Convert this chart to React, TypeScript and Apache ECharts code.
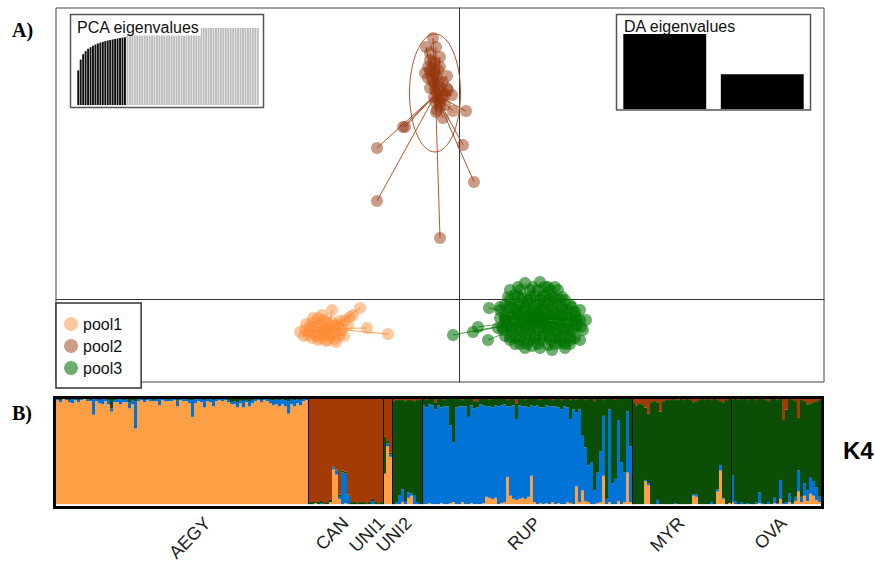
import React, { useEffect, useRef } from 'react';
import * as echarts from 'echarts';

const SANS = '"Liberation Sans", Arial, Helvetica, sans-serif';
const SERIF = '"Liberation Serif", "Times New Roman", serif';

// ---------- Panel A: DAPC scores (LD1, LD2) ----------
const pool1Points: [number, number][] = [
  [-1.54, -0.31], [-1.51, -0.36], [-1.47, -0.39], [-1.41, -0.41], [-1.37, -0.37], [-1.33, -0.42],
  [-1.29, -0.38], [-1.24, -0.40], [-1.19, -0.36], [-1.49, -0.27], [-1.43, -0.29], [-1.39, -0.25],
  [-1.34, -0.30], [-1.29, -0.28], [-1.24, -0.31], [-1.21, -0.26], [-1.17, -0.31], [-1.44, -0.34],
  [-1.37, -0.32], [-1.31, -0.35], [-1.26, -0.35], [-1.53, -0.25], [-1.46, -0.23], [-1.35, -0.21],
  [-1.27, -0.23], [-1.19, -0.22], [-1.41, -0.19], [-1.59, -0.33], [-1.23, -0.43], [-1.15, -0.37],
  [-1.27, -0.11], [-0.99, -0.09], [-1.37, -0.16], [-0.92, -0.29], [-0.71, -0.35], [-1.09, -0.18],
  [-1.06, -0.16], [-1.11, -0.26], [-1.46, -0.19], [-1.14, -0.21],
  [-1.49, -0.33], [-1.39, -0.39], [-1.31, -0.41], [-1.43, -0.37], [-1.55, -0.37], [-1.25, -0.27],
  [-1.32, -0.23],
];
const pool2Points: [number, number][] = [
  [-0.26, 2.61], [-0.33, 2.52], [-0.23, 2.52], [-0.29, 2.46], [-0.19, 2.42], [-0.24, 2.37],
  [-0.31, 2.32], [-0.19, 2.32], [-0.27, 2.27], [-0.34, 2.26], [-0.12, 2.23], [-0.22, 2.22],
  [-0.16, 2.17], [-0.25, 2.16], [-0.12, 2.11], [-0.11, 2.09], [-0.22, 2.06], [-0.07, 2.04],
  [-0.17, 2.01], [-0.24, 1.97], [-0.19, 1.92], [-0.22, 1.89], [-0.06, 1.88], [0.07, 1.88],
  [-0.16, 1.81], [-0.23, 1.87], [-0.54, 1.72], [-0.56, 1.72], [0.04, 1.54], [-0.82, 1.51],
  [0.15, 1.17], [-0.82, 0.98], [-0.19, 0.61], [-0.26, 2.36], [-0.29, 2.29], [-0.24, 2.26],
  [-0.21, 2.29], [-0.27, 2.19], [-0.19, 2.12], [-0.24, 2.09], [-0.16, 2.06], [-0.19, 1.97],
  [-0.14, 1.94], [-0.25, 2.02], [-0.29, 2.39], [-0.21, 2.17], [-0.14, 2.04], [-0.29, 2.11],
  [-0.21, 1.99], [-0.31, 2.21],
];
const pool3Points: [number, number][] = [
  [0.66, 0.16], [0.81, 0.17], [0.89, 0.12], [0.99, 0.09], [0.71, 0.09], [0.56, 0.04], [0.63, 0.01],
  [0.76, 0.03], [0.86, 0.04], [0.96, 0.01], [1.06, -0.01], [1.11, -0.06], [0.46, -0.06], [0.53, -0.09],
  [0.61, -0.06], [0.69, -0.04], [0.79, -0.06], [0.89, -0.05], [0.99, -0.07], [1.09, -0.11], [1.16, -0.13],
  [0.41, -0.19], [0.51, -0.17], [0.59, -0.15], [0.68, -0.17], [0.76, -0.15], [0.86, -0.17], [0.94, -0.15],
  [1.03, -0.17], [1.13, -0.19], [1.21, -0.21], [0.39, -0.29], [0.48, -0.26], [0.56, -0.28], [0.65, -0.25],
  [0.74, -0.27], [0.83, -0.25], [0.91, -0.28], [1.01, -0.26], [1.09, -0.29], [1.18, -0.27], [1.24, -0.31],
  [0.46, -0.37], [0.56, -0.39], [0.66, -0.35], [0.76, -0.38], [0.86, -0.36], [0.96, -0.39], [1.06, -0.37],
  [1.16, -0.39], [0.61, -0.45], [0.73, -0.47], [0.89, -0.46], [1.01, -0.44], [1.11, -0.45], [0.93, -0.51],
  [-0.06, -0.36], [0.19, -0.28], [0.14, -0.33], [0.29, -0.41], [0.30, -0.09], [0.51, 0.09], [0.46, -0.19],
  [0.61, 0.09], [0.79, 0.09], [0.91, 0.09], [0.51, -0.01], [0.69, -0.01], [0.81, -0.01], [0.91, -0.01],
  [1.01, -0.01], [0.41, -0.11], [0.57, -0.11], [0.65, -0.11], [0.74, -0.11], [0.84, -0.11], [0.94, -0.11],
  [1.04, -0.11], [1.21, -0.11], [0.46, -0.21], [0.55, -0.21], [0.63, -0.21], [0.72, -0.21], [0.81, -0.21],
  [0.90, -0.21], [0.99, -0.21], [1.08, -0.21], [1.17, -0.21], [1.27, -0.21], [0.44, -0.31], [0.52, -0.31],
  [0.61, -0.31], [0.70, -0.31], [0.79, -0.31], [0.88, -0.31], [0.97, -0.31], [1.05, -0.31], [1.14, -0.31],
  [0.51, -0.41], [0.61, -0.41], [0.71, -0.41], [0.81, -0.41], [0.91, -0.41], [1.01, -0.41], [1.11, -0.41],
  [1.21, -0.41], [0.66, -0.49], [0.81, -0.49], [1.06, -0.49],
  [0.59, 0.12], [0.74, 0.12], [0.86, 0.12], [0.96, 0.12], [0.49, 0.02], [0.59, 0.02], [0.71, 0.02],
  [0.83, 0.02], [0.93, 0.02], [1.03, 0.02], [0.41, -0.08], [0.50, -0.08], [0.58, -0.08], [0.66, -0.08],
  [0.75, -0.08], [0.84, -0.08], [0.93, -0.08], [1.03, -0.08], [1.13, -0.08], [0.46, -0.18], [0.55, -0.18],
  [0.63, -0.18], [0.72, -0.18], [0.81, -0.18], [0.90, -0.18], [0.99, -0.18], [1.08, -0.18], [1.17, -0.18],
  [0.43, -0.28], [0.52, -0.28], [0.61, -0.28], [0.70, -0.28], [0.79, -0.28], [0.87, -0.28], [0.96, -0.28],
  [1.05, -0.28], [1.14, -0.28], [1.22, -0.28], [0.51, -0.38], [0.61, -0.38], [0.71, -0.38], [0.81, -0.38],
  [0.91, -0.38], [1.01, -0.38], [1.11, -0.38], [0.56, -0.45], [0.68, -0.45], [0.79, -0.45], [0.96, -0.45],
  [1.06, -0.45],
];
// inertia ellipses: centre x, centre y, half-width, half-height (LD units)
const ellipsePool1 = [-1.33, -0.30, 0.2, 0.09];
const ellipsePool2 = [-0.24, 2.06, 0.255, 0.59];
const ellipsePool3 = [0.78, -0.18, 0.35, 0.22];

const pcaRetained = [45, 59, 66, 70, 73, 75, 77, 78.5, 80, 81, 82, 83, 83.8, 84.5, 85.2, 85.8, 86.4, 87, 87.5, 88];
const pcaOther = [
  100, 100, 100, 100, 100, 100, 100, 100, 100, 100, 100, 100, 100, 100, 100, 100, 100, 100,
  100, 100, 100, 100, 100, 100, 100, 100, 100, 100, 100, 100, 100, 100, 100, 100, 100, 100,
  100, 100, 100, 100, 100, 100, 100, 100, 100, 100, 100, 100, 100, 100, 100, 100, 100, 100,
];
const daEigen = [100, 46.5];

// ---------- Panel B: ancestry proportions, K = 4 ----------
const AEGY_blue = [
  0.01, 0.02, 0, 0.01, 0.02, 0.04, 0.01, 0.02, 0.01, 0, 0.02, 0.01,
  0.15, 0.02, 0.03, 0.05, 0.02, 0.04, 0.03, 0.02, 0.03, 0.05, 0.02, 0.03,
  0.06, 0.04, 0.26, 0.02, 0.01, 0.02, 0.01, 0.02, 0.01, 0.02, 0.06, 0.01,
  0.02, 0.01, 0.02, 0.01, 0.06, 0.01, 0.02, 0.02, 0.03, 0.16, 0.04, 0.02,
  0.03, 0.07, 0.02, 0.03, 0.06, 0.02, 0.01, 0.02, 0.01, 0.02, 0.02, 0.03,
  0.05, 0.03, 0.06, 0.02, 0.05, 0.03, 0.02, 0.01, 0.02, 0.01, 0.02, 0.03,
  0.05, 0.05, 0.06, 0.05, 0.06, 0.12, 0.05, 0.06, 0.04, 0.05, 0.02, 0.01,
];
const AEGY_green = [
  0, 0.01, 0, 0, 0.01, 0, 0, 0.01, 0, 0, 0, 0.01,
  0, 0, 0.01, 0, 0, 0.01, 0.09, 0.01, 0, 0, 0.01, 0,
  0.03, 0.01, 0.02, 0, 0, 0.01, 0, 0, 0.01, 0, 0, 0,
  0, 0.01, 0, 0, 0.01, 0, 0, 0, 0.01, 0.01, 0, 0,
  0, 0.01, 0, 0, 0.01, 0, 0, 0, 0, 0.01, 0.03, 0.02,
  0.03, 0.01, 0.02, 0.01, 0.02, 0.01, 0, 0, 0.01, 0, 0, 0.01,
  0.01, 0, 0.01, 0, 0.01, 0.02, 0, 0.01, 0, 0.01, 0, 0,
];
const CAN_orange = [0, 0, 0.01, 0, 0, 0, 0, 0.02, 0.33, 0.28, 0.05, 0, 0.01, 0, 0, 0, 0, 0, 0, 0, 0, 0, 0, 0, 0];
const CAN_blue = [0, 0, 0, 0, 0.01, 0, 0, 0, 0.02, 0.04, 0.02, 0.3, 0.28, 0.08, 0, 0, 0, 0, 0, 0, 0, 0.03, 0, 0, 0];
const CAN_green = [0.02, 0.02, 0.01, 0.02, 0.02, 0.01, 0.02, 0.02, 0.01, 0.01, 0.02, 0.02, 0.02, 0.01, 0.02, 0.02, 0.01, 0.02, 0.02, 0.01, 0.02, 0.02, 0.02, 0.01, 0.02];
const UNI1_orange = [0.29, 0.55, 0.45];
const UNI1_blue = [0, 0.03, 0.02];
const UNI1_green = [0.35, 0.02, 0.02];
const UNI2_orange = [0, 0, 0, 0.02, 0, 0.06, 0.08, 0, 0, 0];
const UNI2_blue = [0, 0.02, 0.08, 0.12, 0.03, 0.05, 0.02, 0.08, 0.02, 0];
const UNI2_brown = [0.02, 0.01, 0.01, 0.01, 0.02, 0.01, 0.01, 0.02, 0.01, 0.01];
const RUP_orange = [
  0, 0, 0.01, 0, 0, 0, 0.01, 0, 0, 0.01,
  0.02, 0, 0, 0.02, 0, 0, 0.01, 0, 0, 0,
  0.01, 0.07, 0.06, 0.05, 0.06, 0, 0.01, 0.02, 0.26, 0.08,
  0.05, 0.04, 0.05, 0.06, 0.05, 0.07, 0.27, 0.02, 0, 0.01,
  0, 0.01, 0, 0.02, 0, 0.01, 0, 0, 0.02, 0.01,
  0, 0.17, 0.02, 0.13, 0.03, 0.02, 0, 0, 0.01, 0.02,
  0.27, 0, 0.02, 0, 0, 0.03, 0, 0.02, 0.3, 0.02,
];
const RUP_green = [
  0.06, 0.07, 0.05, 0.06, 0.07, 0.06, 0.08, 0.06, 0.07, 0.25,
  0.41, 0.08, 0.07, 0.06, 0.07, 0.17, 0.06, 0.07, 0.06, 0.05,
  0.06, 0.07, 0.06, 0.08, 0.06, 0.07, 0.06, 0.05, 0.06, 0.07,
  0.06, 0.15, 0.06, 0.07, 0.06, 0.08, 0.06, 0.07, 0.06, 0.07,
  0.08, 0.06, 0.07, 0.06, 0.07, 0.08, 0.09, 0.07, 0.08, 0.18,
  0.1, 0.12, 0.1, 0.35, 0.45, 0.63, 0.6, 0.85, 0.7, 0.5,
  0.15, 0.95, 0.1, 0.8, 0.75, 0.2, 0.6, 0.7, 0.12, 0.45,
];
const RUP_brown = [
  0, 0.01, 0, 0, 0.03, 0, 0, 0.01, 0, 0,
  0, 0, 0, 0.01, 0, 0, 0, 0.02, 0.02, 0,
  0, 0, 0.01, 0, 0, 0, 0, 0, 0.01, 0,
  0, 0.04, 0, 0, 0.01, 0, 0, 0, 0, 0.01,
  0, 0, 0, 0.01, 0, 0, 0.01, 0, 0, 0.01,
  0, 0.01, 0, 0, 0.01, 0, 0, 0.02, 0, 0,
  0.01, 0, 0, 0, 0.01, 0, 0, 0, 0, 0,
];
const MYR_orange = [
  0, 0, 0, 0, 0.22, 0.18, 0, 0, 0, 0, 0,
  0, 0, 0, 0, 0, 0, 0, 0, 0, 0.08, 0.07,
  0, 0, 0, 0, 0, 0, 0.12, 0.32, 0.05, 0, 0.01,
];
const MYR_blue = [
  0, 0, 0, 0, 0.01, 0.02, 0, 0, 0.04, 0, 0,
  0, 0, 0, 0.01, 0, 0, 0, 0, 0, 0.01, 0.02,
  0, 0, 0, 0, 0.02, 0, 0.02, 0.05, 0.01, 0, 0,
];
const MYR_brown = [
  0.03, 0.06, 0.04, 0.05, 0.08, 0.14, 0.03, 0.02, 0.03, 0.12, 0.02,
  0.01, 0.01, 0, 0.01, 0.01, 0, 0.01, 0, 0.01, 0.03, 0.02,
  0.01, 0, 0.01, 0, 0.01, 0, 0.01, 0.02, 0.03, 0.01, 0,
];
const OVA_orange = [
  0.02, 0, 0, 0, 0, 0, 0, 0, 0, 0.01,
  0, 0, 0, 0, 0.01, 0, 0.05, 0, 0, 0.02,
  0, 0.03, 0.12, 0.02, 0.08, 0.03, 0.1, 0.08, 0.04, 0.02,
];
const OVA_blue = [
  0.25, 0.03, 0, 0.02, 0, 0.01, 0, 0, 0.02, 0.1,
  0.01, 0, 0.02, 0, 0.05, 0.01, 0.18, 0.01, 0.02, 0.08,
  0.01, 0.04, 0.2, 0.05, 0.12, 0.1, 0.15, 0.14, 0.12, 0.05,
];
const OVA_brown = [
  0.01, 0, 0.01, 0, 0, 0.01, 0, 0, 0.01, 0,
  0, 0.01, 0.02, 0, 0, 0.01, 0, 0.2, 0.1, 0,
  0.01, 0.02, 0.18, 0.01, 0.02, 0.05, 0.04, 0.03, 0.02, 0.01,
];
// index of the individual under which each population name is written
const popLabelIndex = [50, 96, 108, 117, 160, 208, 242];

type Comp = 'orange' | 'blue' | 'green' | 'brown';
const COMPS: Comp[] = ['orange', 'blue', 'green', 'brown'];
const CLUSTER_COLORS: Record<Comp, string> = {
  orange: '#fd9f45', blue: '#0073d6', green: '#0b4f06', brown: '#a43a04',
};
const populations: { name: string; main: Comp; minor: Partial<Record<Comp, number[]>> }[] = [
  { name: 'AEGY', main: 'orange', minor: { blue: AEGY_blue, green: AEGY_green } },
  { name: 'CAN', main: 'brown', minor: { orange: CAN_orange, blue: CAN_blue, green: CAN_green } },
  { name: 'UNI1', main: 'brown', minor: { orange: UNI1_orange, blue: UNI1_blue, green: UNI1_green } },
  { name: 'UNI2', main: 'green', minor: { orange: UNI2_orange, blue: UNI2_blue, brown: UNI2_brown } },
  { name: 'RUP', main: 'blue', minor: { orange: RUP_orange, green: RUP_green, brown: RUP_brown } },
  { name: 'MYR', main: 'green', minor: { orange: MYR_orange, blue: MYR_blue, brown: MYR_brown } },
  { name: 'OVA', main: 'green', minor: { orange: OVA_orange, blue: OVA_blue, brown: OVA_brown } },
];

function buildStructure() {
  const cats: string[] = [];
  const vals: Record<Comp, number[]> = { orange: [], blue: [], green: [], brown: [] };
  const starts: number[] = [];
  populations.forEach((p) => {
    starts.push(cats.length);
    const arrays = Object.values(p.minor) as number[][];
    const n = arrays[0].length;
    for (let k = 0; k < n; k++) {
      cats.push(`${p.name}_${k + 1}`);
      let sum = 0;
      COMPS.forEach((c) => {
        if (c !== p.main) sum += p.minor[c] ? p.minor[c]![k] : 0;
      });
      COMPS.forEach((c) => {
        const v = c === p.main ? 1 - sum : p.minor[c] ? p.minor[c]![k] : 0;
        vals[c].push(Math.round(v * 1000) / 1000);
      });
    }
  });
  return { cats, vals, starts };
}

function centroid(pts: [number, number][]): [number, number] {
  const sx = pts.reduce((a, p) => a + p[0], 0);
  const sy = pts.reduce((a, p) => a + p[1], 0);
  return [sx / pts.length, sy / pts.length];
}

const POOL_FILL = ['rgba(252,140,55,0.6)', 'rgba(150,55,15,0.62)', 'rgba(0,115,0,0.72)'];
const POOL_LINE = ['rgba(252,150,70,0.9)', 'rgba(165,70,30,0.9)', 'rgba(20,125,20,0.75)'];

export default function App() {
  const ref = useRef<HTMLDivElement>(null);
  useEffect(() => {
    if (!ref.current) return;
    const chart = echarts.init(ref.current, null, { renderer: 'svg' });
    const { cats, vals, starts } = buildStructure();
    const startSet = new Set(starts.filter((s) => s > 0));
    const labelMap = new Map<number, string>();
    popLabelIndex.forEach((idx, i) => labelMap.set(idx, populations[i].name));

    const pools = [pool1Points, pool2Points, pool3Points];
    const ellipses = [ellipsePool1, ellipsePool2, ellipsePool3];
    const poolNames = ['pool1', 'pool2', 'pool3'];

    const scatterSeries: any[] = [];
    pools.forEach((pts, i) => {
      const c = centroid(pts);
      scatterSeries.push({
        name: poolNames[i] + ' links', type: 'lines', coordinateSystem: 'cartesian2d',
        xAxisIndex: 0, yAxisIndex: 0, z: 1, silent: true,
        lineStyle: { color: POOL_LINE[i], width: 1, opacity: 1 },
        data: pts.map((p) => ({ coords: [c, p] })),
      });
    });
    scatterSeries.push({
      name: 'ellipses', type: 'custom', xAxisIndex: 0, yAxisIndex: 0, z: 1, silent: true,
      data: ellipses,
      renderItem: (params: any, api: any) => {
        const c = api.coord([api.value(0), api.value(1)]);
        const s = api.size([api.value(2), api.value(3)]);
        return {
          type: 'ellipse',
          shape: { cx: c[0], cy: c[1], rx: s[0], ry: s[1] },
          style: { fill: 'none', stroke: POOL_LINE[params.dataIndex], lineWidth: 1 },
        };
      },
    });
    pools.forEach((pts, i) => {
      scatterSeries.push({
        name: poolNames[i], type: 'scatter', xAxisIndex: 0, yAxisIndex: 0, z: 3,
        symbolSize: 12, itemStyle: { color: POOL_FILL[i] }, data: pts,
      });
    });

    const pcaData = [
      ...pcaRetained.map((v) => ({ value: v, itemStyle: { color: '#111' } })),
      ...pcaOther.map((v) => ({ value: v, itemStyle: { color: '#bcbcbc' } })),
    ];

    const option: any = {
      animation: false,
      backgroundColor: '#fff',
      grid: [
        { left: 56, top: 8, width: 768, height: 374, show: true, borderColor: '#444', borderWidth: 1 },
        { left: 77, top: 28, width: 182, height: 77 },
        { left: 616, top: 34, width: 195, height: 75 },
        { left: 56, top: 399, width: 765, height: 107 },
      ],
      xAxis: [
        {
          gridIndex: 0, type: 'value', min: -4.03, max: 3.65,
          axisLine: { show: true, onZero: true, lineStyle: { color: '#333', width: 1 } },
          axisTick: { show: false }, axisLabel: { show: false }, splitLine: { show: false },
        },
        { gridIndex: 1, type: 'category', data: pcaData.map((_, i) => `PC${i + 1}`), show: false },
        { gridIndex: 2, type: 'category', data: daEigen.map((_, i) => `LD${i + 1}`), show: false },
        {
          gridIndex: 3, type: 'category', data: cats, boundaryGap: true, z: 10,
          axisLine: { show: false }, axisTick: { show: false },
          splitLine: {
            show: true,
            interval: (index: number) => startSet.has(index),
            lineStyle: { color: '#111', width: 1 },
          },
          axisLabel: {
            show: true, rotate: 45, margin: 16,
            interval: (index: number) => labelMap.has(index),
            formatter: (_v: string, index: number) => labelMap.get(index) || '',
            fontFamily: SANS, fontSize: 18, color: '#222',
          },
        },
      ],
      yAxis: [
        {
          gridIndex: 0, type: 'value', min: -0.83, max: 2.91,
          axisLine: { show: true, onZero: true, lineStyle: { color: '#333', width: 1 } },
          axisTick: { show: false }, axisLabel: { show: false }, splitLine: { show: false },
        },
        { gridIndex: 1, type: 'value', min: 0, max: 100, show: false },
        { gridIndex: 2, type: 'value', min: 0, max: 100, show: false },
        { gridIndex: 3, type: 'value', min: 0, max: 1, show: false },
      ],
      legend: {
        data: poolNames, orient: 'vertical', left: 56, top: 303,
        padding: [13, 19, 12, 8], itemGap: 6, itemWidth: 14, itemHeight: 14, icon: 'circle',
        borderColor: '#333', borderWidth: 1.5, backgroundColor: '#fff', selectedMode: false,
        textStyle: { fontSize: 16, fontFamily: SANS, color: '#111' },
      },
      graphic: [
        { type: 'rect', z: 0, shape: { x: 70.5, y: 14.5, width: 193, height: 93 }, style: { fill: '#fff', stroke: '#555', lineWidth: 1.5 } },
        { type: 'rect', z: 0, shape: { x: 616.5, y: 14.5, width: 194, height: 95.5 }, style: { fill: '#fff', stroke: '#555', lineWidth: 1.5 } },
        { type: 'text', z: 10, x: 76, y: 27.5, style: { text: 'PCA eigenvalues', font: `16px ${SANS}`, fill: '#111', verticalAlign: 'middle', backgroundColor: '#fff', padding: [0, 1] } },
        { type: 'text', z: 10, x: 624, y: 26, style: { text: 'DA eigenvalues', font: `16px ${SANS}`, fill: '#111', verticalAlign: 'middle' } },
        { type: 'text', z: 10, x: 12, y: 30, style: { text: 'A)', font: `bold 20px ${SERIF}`, fill: '#000', verticalAlign: 'middle' } },
        { type: 'text', z: 10, x: 12, y: 413, style: { text: 'B)', font: `bold 20px ${SERIF}`, fill: '#000', verticalAlign: 'middle' } },
        { type: 'text', z: 10, x: 843, y: 450, style: { text: 'K4', font: `bold 24px ${SANS}`, fill: '#000', verticalAlign: 'middle' } },
        { type: 'rect', z: 20, shape: { x: 54.5, y: 397.5, width: 768, height: 110 }, style: { fill: 'none', stroke: '#000', lineWidth: 3 } },
      ],
      series: [
        ...scatterSeries,
        {
          name: 'PCA eigenvalues', type: 'bar', xAxisIndex: 1, yAxisIndex: 1,
          barCategoryGap: '22%', data: pcaData, silent: true,
        },
        {
          name: 'DA eigenvalues', type: 'bar', xAxisIndex: 2, yAxisIndex: 2,
          barCategoryGap: '15%', itemStyle: { color: '#000' }, data: daEigen, silent: true,
        },
        ...COMPS.map((c) => ({
          name: `cluster ${c}`, type: 'bar', xAxisIndex: 3, yAxisIndex: 3, stack: 'q',
          barCategoryGap: '0%', silent: true,
          itemStyle: { color: CLUSTER_COLORS[c], borderWidth: 0 },
          data: vals[c],
        })),
      ],
    };
    chart.setOption(option);
    return () => chart.dispose();
  }, []);
  return <div ref={ref} style={{ position: 'absolute', left: 0, top: 0, width: 875, height: 564 }} />;
}
